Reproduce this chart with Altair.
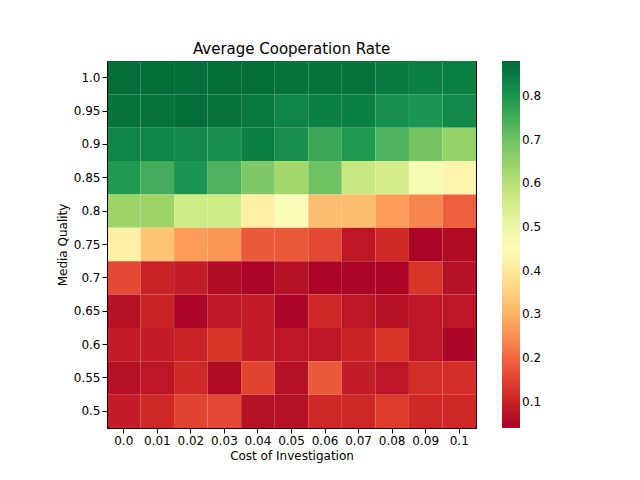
import pandas as pd
import altair as alt

costs = ["0.0", "0.01", "0.02", "0.03", "0.04", "0.05", "0.06", "0.07", "0.08", "0.09", "0.1"]
quality = ["1.0", "0.95", "0.9", "0.85", "0.8", "0.75", "0.7", "0.65", "0.6", "0.55", "0.5"]

# rows top (1.0) to bottom (0.5)
rates = [
    [0.87, 0.87, 0.87, 0.87, 0.87, 0.86, 0.86, 0.86, 0.85, 0.84, 0.84],
    [0.86, 0.86, 0.87, 0.86, 0.85, 0.83, 0.84, 0.84, 0.81, 0.80, 0.82],
    [0.83, 0.83, 0.82, 0.81, 0.84, 0.81, 0.76, 0.79, 0.74, 0.69, 0.65],
    [0.79, 0.75, 0.80, 0.74, 0.68, 0.63, 0.70, 0.57, 0.55, 0.48, 0.43],
    [0.64, 0.64, 0.56, 0.56, 0.42, 0.47, 0.32, 0.32, 0.27, 0.24, 0.19],
    [0.42, 0.33, 0.27, 0.26, 0.18, 0.18, 0.16, 0.08, 0.11, 0.05, 0.06],
    [0.16, 0.10, 0.09, 0.06, 0.05, 0.07, 0.05, 0.05, 0.05, 0.13, 0.07],
    [0.07, 0.10, 0.05, 0.08, 0.09, 0.05, 0.11, 0.08, 0.07, 0.08, 0.08],
    [0.09, 0.09, 0.10, 0.13, 0.09, 0.08, 0.08, 0.10, 0.13, 0.08, 0.05],
    [0.07, 0.08, 0.11, 0.06, 0.15, 0.07, 0.18, 0.09, 0.08, 0.12, 0.12],
    [0.09, 0.11, 0.15, 0.16, 0.07, 0.07, 0.11, 0.11, 0.14, 0.11, 0.11],
]

# matplotlib RdYlGn
rdylgn = ["#a50026", "#d73027", "#f46d43", "#fdae61", "#fee08b", "#ffffbf",
          "#d9ef8b", "#a6d96a", "#66bd63", "#1a9850", "#006837"]

rows = []
for i, q in enumerate(quality):
    for j, c in enumerate(costs):
        rows.append({"cost": c, "quality": q, "rate": rates[i][j]})
df = pd.DataFrame(rows)

chart = alt.Chart(df).mark_rect(strokeWidth=0).encode(
    x=alt.X("cost:O", sort=costs, title="Cost of Investigation",
            axis=alt.Axis(labelAngle=0)),
    y=alt.Y("quality:O", sort=quality, title="Media Quality"),
    color=alt.Color("rate:Q", title=None,
                    scale=alt.Scale(range=rdylgn, domain=[0.04, 0.88], interpolate="rgb"),
                    legend=alt.Legend(gradientLength=367, gradientThickness=18,
                                      offset=26, values=[0.1, 0.2, 0.3, 0.4, 0.5, 0.6, 0.7, 0.8],
                                      labelFontSize=12)),
).properties(
    width=369, height=367,
    title=alt.Title("Average Cooperation Rate", fontSize=15, fontWeight="normal"),
    padding={"left": 48, "top": 33, "right": 10, "bottom": 10},
).configure_axis(
    labelFontSize=12, titleFontSize=12, titleFontWeight="normal",
    labelFont="DejaVu Sans", titleFont="DejaVu Sans", grid=False, domainColor="black",
    tickColor="black", labelColor="black", titleColor="black",
).configure_legend(labelFont="DejaVu Sans").configure_title(font="DejaVu Sans").configure_view(stroke="black")

chart.save("out.html", embed_options={"renderer": "svg", "actions": False})
